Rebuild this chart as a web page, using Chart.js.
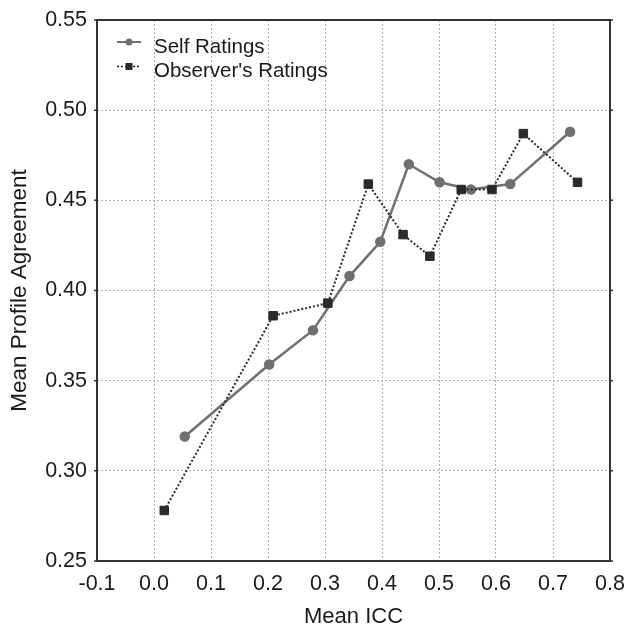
<!DOCTYPE html>
<html>
<head>
<meta charset="utf-8">
<script src="https://cdn.jsdelivr.net/npm/chart.js@4"></script>
<style>
  html, body { margin: 0; padding: 0; background: #fff; }
  #c { display: block; }
</style>
</head>
<body>
<canvas id="c" width="628" height="630"></canvas>
<script>
// data
const selfX = [0.054, 0.202, 0.279, 0.343, 0.397, 0.447, 0.501, 0.556, 0.625, 0.730];
const selfY = [0.319, 0.359, 0.378, 0.408, 0.427, 0.470, 0.460, 0.456, 0.459, 0.488];
const obsX = [0.018, 0.209, 0.305, 0.376, 0.437, 0.484, 0.539, 0.593, 0.648, 0.743];
const obsY = [0.278, 0.386, 0.393, 0.459, 0.431, 0.419, 0.456, 0.456, 0.487, 0.460];
const seriesNames = ["Self Ratings", "Observer's Ratings"];
const xTitle = "Mean ICC";
const yTitle = "Mean Profile Agreement";

const fam = "'Liberation Sans', Arial, sans-serif";
const txt = "#1a1a1a";
const selfCol = "#707070";
const obsCol = "#2a2a2a";

function pts(xs, ys) {
  return xs.map((x, i) => ({ x: x, y: ys[i] }));
}

// frame round the plot area + small ticks on left/right
const frame = {
  id: "frame",
  afterDraw(chart) {
    const ctx = chart.ctx;
    const a = chart.chartArea;
    ctx.save();
    ctx.strokeStyle = "#333";
    ctx.lineWidth = 2;
    ctx.strokeRect(a.left, a.top, a.right - a.left, a.bottom - a.top);
    ctx.lineWidth = 1.5;
    chart.scales.y.ticks.forEach((t) => {
      let py = chart.scales.y.getPixelForValue(t.value);
      ctx.beginPath();
      ctx.moveTo(a.left - 3, py);
      ctx.lineTo(a.left, py);
      ctx.moveTo(a.right, py);
      ctx.lineTo(a.right + 3, py);
      ctx.stroke();
    });
    ctx.restore();
  },
};

// legend drawn inside the plot, line + marker samples
const insideLegend = {
  id: "insideLegend",
  afterDraw(chart) {
    const ctx = chart.ctx;
    const a = chart.chartArea;
    ctx.save();
    ctx.font = "20.5px " + fam;
    ctx.textBaseline = "middle";
    chart.data.datasets.forEach((ds, i) => {
      let y = a.top + 22 + i * 24.5;
      let x0 = a.left + 20;
      ctx.strokeStyle = ds.borderColor;
      ctx.lineWidth = i == 0 ? 2 : 1.5;
      ctx.setLineDash(i == 0 ? [] : [2, 2]);
      ctx.beginPath();
      ctx.moveTo(x0, y);
      ctx.lineTo(x0 + 24, y);
      ctx.stroke();
      ctx.setLineDash([]);
      ctx.fillStyle = ds.pointBackgroundColor;
      if (i == 0) {
        ctx.beginPath();
        ctx.arc(x0 + 12, y, 3.5, 0, Math.PI * 2);
        ctx.fill();
      } else {
        ctx.fillRect(x0 + 8.5, y - 3.5, 7, 7);
      }
      ctx.fillStyle = txt;
      ctx.fillText(ds.label, x0 + 37, y + 5);
    });
    ctx.restore();
  },
};

const tickFont = { family: fam, size: 21.5 };
const titleFont = { family: fam, size: 22.5 };

new Chart(document.getElementById("c"), {
  type: "scatter",
  data: {
    datasets: [
      {
        label: seriesNames[0],
        data: pts(selfX, selfY),
        showLine: true,
        borderColor: selfCol,
        backgroundColor: selfCol,
        pointBackgroundColor: selfCol,
        pointBorderColor: selfCol,
        borderWidth: 2.5,
        pointRadius: 4,
        pointStyle: "circle",
        order: 2,
      },
      {
        label: seriesNames[1],
        data: pts(obsX, obsY),
        showLine: true,
        borderColor: obsCol,
        backgroundColor: obsCol,
        pointBackgroundColor: obsCol,
        pointBorderColor: obsCol,
        borderWidth: 2,
        borderDash: [2, 2],
        pointRadius: 6,
        pointBorderWidth: 1,
        pointStyle: "rect",
        order: 1,
      },
    ],
  },
  options: {
    responsive: false,
    animation: false,
    layout: { padding: { left: 0, right: 18, top: 20, bottom: 0 } },
    plugins: {
      legend: { display: false },
      tooltip: { enabled: false },
    },
    scales: {
      x: {
        type: "linear",
        min: -0.1,
        max: 0.8,
        ticks: {
          stepSize: 0.1,
          font: tickFont,
          color: txt,
          padding: 10,
          maxRotation: 0,
          callback: (v) => v.toFixed(1),
        },
        grid: { color: "#b0b0b0", lineWidth: 1, drawTicks: false },
        border: { display: false, dash: [2, 2] },
        title: {
          display: true,
          text: xTitle,
          font: { family: fam, size: 22 },
          color: txt,
          padding: { top: 0, bottom: 0 },
        },
        afterFit: (ax) => {
          ax.height = 69;
          ax.paddingLeft = 0;
          ax.paddingRight = 0;
        },
      },
      y: {
        type: "linear",
        min: 0.25,
        max: 0.55,
        ticks: {
          stepSize: 0.05,
          font: tickFont,
          color: txt,
          padding: 10,
          callback: (v) => v.toFixed(2),
        },
        grid: { color: "#b0b0b0", lineWidth: 1, drawTicks: false },
        border: { display: false, dash: [2, 2] },
        title: {
          display: true,
          text: yTitle,
          font: titleFont,
          color: txt,
          padding: { top: 6, bottom: 0 },
        },
        afterFit: (ax) => {
          ax.width = 97;
          ax.paddingTop = 0;
          ax.paddingBottom = 0;
        },
      },
    },
  },
  plugins: [frame, insideLegend],
});
</script>
</body>
</html>
